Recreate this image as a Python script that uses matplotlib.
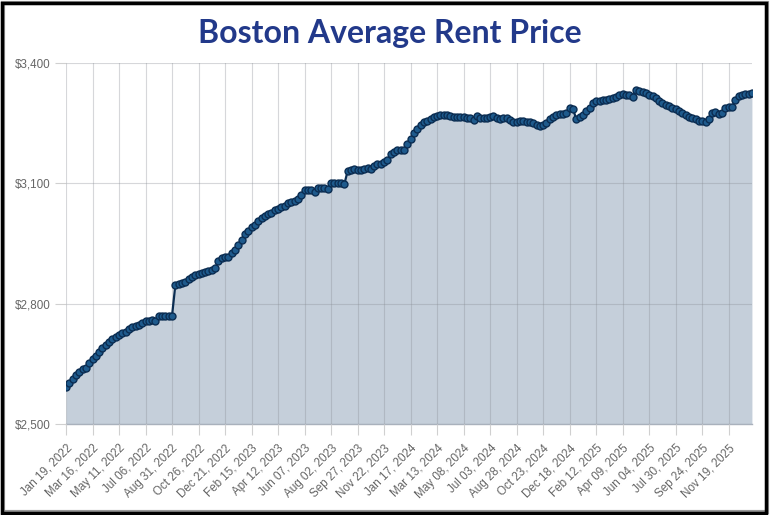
import numpy as np
import pandas as pd
import matplotlib
matplotlib.use("Agg")
import matplotlib.pyplot as plt
import matplotlib.dates as mdates
from matplotlib.patches import Rectangle
from matplotlib.ticker import FuncFormatter

# weekly average rent, Boston, starting Wed Jan 19, 2022
start_date = "2022-01-19"
rent = [
    2593, 2603, 2612, 2622, 2630, 2637, 2640, 2651, 2661, 2670,
    2679, 2689, 2697, 2704, 2711, 2718, 2722, 2726, 2730, 2736,
    2743, 2744, 2747, 2753, 2758, 2758, 2759, 2758, 2768, 2768,
    2768, 2769, 2770, 2847, 2848, 2851, 2853, 2861, 2866, 2871,
    2873, 2876, 2879, 2881, 2884, 2888, 2907, 2915, 2917, 2917,
    2926, 2934, 2946, 2959, 2974, 2982, 2992, 2996, 3006, 3014,
    3019, 3023, 3027, 3034, 3036, 3041, 3044, 3052, 3054, 3057,
    3060, 3071, 3084, 3084, 3084, 3079, 3088, 3089, 3089, 3085,
    3102, 3102, 3100, 3100, 3098, 3131, 3132, 3135, 3132, 3132,
    3135, 3137, 3135, 3143, 3147, 3148, 3152, 3158, 3173, 3179,
    3182, 3182, 3183, 3198, 3210, 3225, 3235, 3246, 3254, 3256,
    3260, 3265, 3268, 3270, 3271, 3271, 3268, 3266, 3265, 3265,
    3265, 3263, 3262, 3258, 3268, 3263, 3264, 3264, 3266, 3268,
    3262, 3260, 3262, 3262, 3258, 3252, 3252, 3256, 3256, 3252,
    3252, 3251, 3246, 3244, 3246, 3250, 3260, 3265, 3271, 3272,
    3272, 3275, 3287, 3285, 3260, 3265, 3271, 3281, 3287, 3299,
    3304, 3306, 3307, 3308, 3310, 3312, 3316, 3321, 3323, 3321,
    3319, 3315, 3333, 3331, 3328, 3325, 3321, 3318, 3312, 3306,
    3300, 3296, 3293, 3289, 3285, 3281, 3275, 3271, 3266, 3264,
    3260, 3256, 3256, 3254, 3260, 3275, 3277, 3273, 3275, 3287,
    3290, 3291, 3308, 3318, 3321, 3322, 3322, 3326,
]
dates = pd.date_range(start_date, periods=len(rent), freq="7D")
tick_dates = pd.date_range(start_date, "2025-11-19", freq="56D")
y_ticks = [2500, 2800, 3100, 3400]

fig = plt.figure(figsize=(7.72, 5.15), dpi=100)
ax = fig.add_axes([0.0855, 0.1767, 0.8885, 0.701])

ax.fill_between(dates, rent, 2500, color="#c5cfda", zorder=1, linewidth=0)
ax.plot(dates, rent, color="#0b2d52", linewidth=1.6, marker="o",
        markersize=5.0, markerfacecolor="#1e5a8c", markeredgecolor="#0b2d52",
        markeredgewidth=1.0, zorder=3)

ax.set_xlim(dates[0], dates[-1])
ax.set_ylim(2500, 3400)
ax.set_yticks(y_ticks)
ax.yaxis.set_major_formatter(FuncFormatter(lambda v, p: "${:,.0f}".format(v)))
ax.set_xticks(tick_dates)
ax.xaxis.set_major_formatter(mdates.DateFormatter("%b %d, %Y"))

ax.grid(True, color="#8a8f96", alpha=0.35, linewidth=0.8, zorder=2)
ax.set_axisbelow(False)
for s in ["top", "right", "left"]:
    ax.spines[s].set_visible(False)
ax.spines["bottom"].set_color("#a9b1bc")
ax.spines["bottom"].set_linewidth(1.0)
ax.tick_params(axis="both", colors="#d0d0d0", length=8, width=0.8,
               labelcolor="#666666", labelsize=8.4)
ax.tick_params(axis="y", pad=3)
ax.tick_params(axis="x", pad=5)
for lbl in ax.get_xticklabels():
    lbl.set_rotation(45)
    lbl.set_ha("right")
    lbl.set_rotation_mode("anchor")
    lbl.set_fontfamily("Liberation Sans")
for lbl in ax.get_yticklabels():
    lbl.set_fontfamily("Liberation Sans")

fig.text(0.505, 0.935, "Boston Average Rent Price", ha="center", va="center",
         fontsize=23, fontweight="bold", color="#22398a", family="Lato")

# frame around the picture
fig.patches.append(Rectangle((0.004, 0.006), 0.99, 0.988, transform=fig.transFigure,
                             fill=False, edgecolor="#9a9a9a", linewidth=3, zorder=9))
fig.patches.append(Rectangle((0.002, 0.004), 0.99, 0.99, transform=fig.transFigure,
                             fill=False, edgecolor="black", linewidth=2.5, zorder=10))

fig.savefig("out.png", dpi=100)
